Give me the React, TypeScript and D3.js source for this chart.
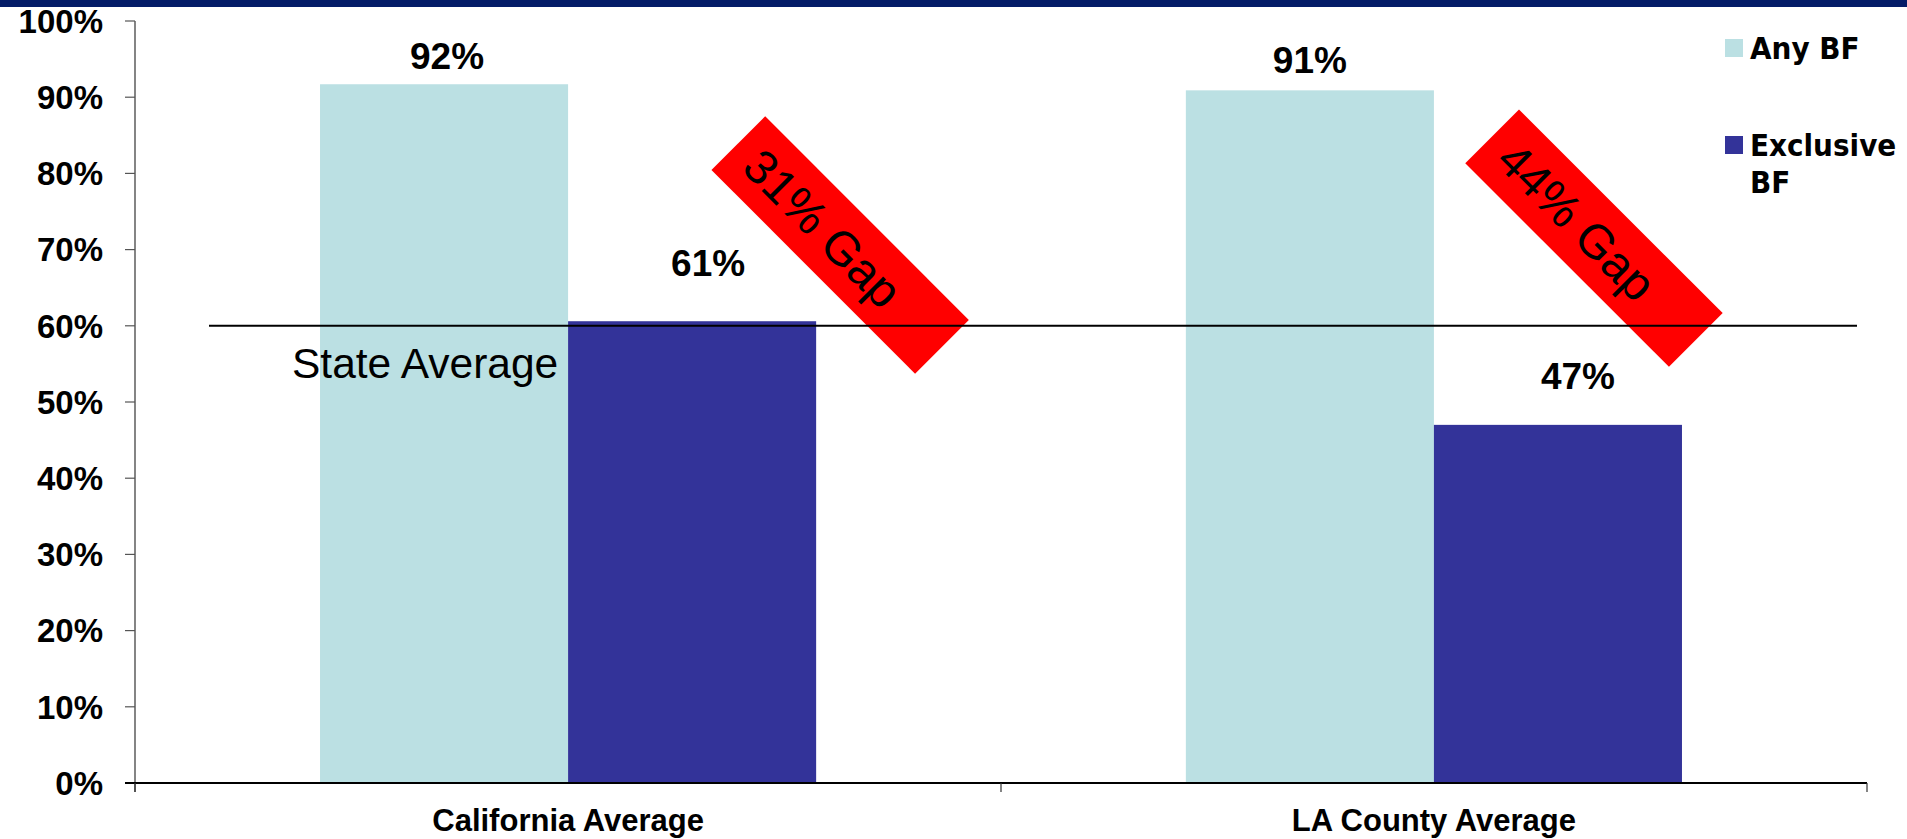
import React from "react";
import * as d3 from "d3";

const categories = ["California Average", "LA County Average"];
const seriesNames = ["Any BF", "Exclusive BF"];
const anyBF = [91.7, 90.9];
const exclusiveBF = [60.6, 47.0];
const yTicks = [0, 10, 20, 30, 40, 50, 60, 70, 80, 90, 100];
const stateAverage = 60;
const stateAverageLabel = "State Average";
const gapLabels = ["31% Gap", "44% Gap"];
const gapAnchorValues = [70.6, 71.5];

// layout constants
const W = 1907;
const H = 839;
const plot = { left: 135, right: 1867, top: 21, bottom: 783 };
const colors = ["#bbe0e3", "#333399"];
const labelOffsets = [
  [ [3, -15], [16, -45] ],
  [ [0, -17], [20, -36] ],
];
const gapDx = [24, -88];
const AX = "Liberation Sans, Arial, sans-serif";
const LEG = "'DejaVu Sans Condensed', 'DejaVu Sans', sans-serif";

export default function App() {
  const y = d3.scaleLinear().domain([0, 100]).range([plot.bottom, plot.top]);
  const x0 = d3
    .scaleBand<string>()
    .domain(categories)
    .range([plot.left, plot.right])
    .paddingInner(0.427)
    .paddingOuter(0.2137);
  const x1 = d3.scaleBand<string>().domain(seriesNames).range([0, x0.bandwidth()]);
  const series = [anyBF, exclusiveBF];
  const fmt = (v: number) => `${Math.round(v)}%`;

  const catBounds = [plot.left, ...categories.map((c, i) => (i < categories.length - 1 ? (x0(c)! + x0.bandwidth() + x0(categories[i + 1])!) / 2 : plot.right))];

  return (
    <svg width={W} height={H} style={{ position: "absolute", left: 0, top: 0, background: "#fff" }}>
      <rect x={0} y={0} width={W} height={7} fill="#041c68" />

      {/* bars */}
      {categories.map((c, ci) =>
        seriesNames.map((s, si) => {
          const v = series[si][ci];
          return (
            <rect
              key={c + s}
              x={x0(c)! + x1(s)!}
              y={y(v)}
              width={x1.bandwidth()}
              height={y(0) - y(v)}
              fill={colors[si]}
            />
          );
        })
      )}

      {/* value labels */}
      {categories.map((c, ci) =>
        seriesNames.map((s, si) => {
          const v = series[si][ci];
          const [dx, dy] = labelOffsets[ci][si];
          return (
            <text
              key={"l" + c + s}
              x={x0(c)! + x1(s)! + x1.bandwidth() / 2 + dx}
              y={y(v) + dy}
              textAnchor="middle"
              fontFamily={AX}
              fontWeight="bold"
              fontSize={37}
              fill="#000"
            >
              {fmt(v)}
            </text>
          );
        })
      )}

      {/* y axis */}
      <line x1={plot.left} x2={plot.left} y1={plot.top} y2={plot.bottom + 9} stroke="#333" strokeWidth={1.2} />
      {yTicks.map((t) => (
        <g key={t}>
          <line x1={plot.left - 10} x2={plot.left} y1={y(t)} y2={y(t)} stroke="#555" strokeWidth={1.2} />
          <text
            x={103}
            y={y(t)}
            dy="0.36em"
            textAnchor="end"
            fontFamily={AX}
            fontWeight="bold"
            fontSize={33}
            fill="#000"
          >
            {t}%
          </text>
        </g>
      ))}

      {/* x axis */}
      <line x1={plot.left - 10} x2={plot.right} y1={plot.bottom} y2={plot.bottom} stroke="#000" strokeWidth={2} />
      {catBounds.map((b, i) => (
        <line key={"cb" + i} x1={b} x2={b} y1={plot.bottom} y2={plot.bottom + 9} stroke="#333" strokeWidth={1.2} />
      ))}
      {categories.map((c) => (
        <text
          key={"c" + c}
          x={x0(c)! + x0.bandwidth() / 2}
          y={831}
          textAnchor="middle"
          fontFamily={AX}
          fontWeight="bold"
          fontSize={31}
          fill="#000"
        >
          {c}
        </text>
      ))}

      {/* gap annotations */}
      {categories.map((c, ci) => {
        const cx = x0(c)! + x0.bandwidth() + gapDx[ci];
        const cy = y(gapAnchorValues[ci]);
        return (
          <g key={"g" + c} transform={`translate(${cx},${cy}) rotate(45)`}>
            <rect x={-144} y={-38} width={288} height={76} fill="#ff0000" />
            <text x={-24} y={0} dy="0.36em" textAnchor="middle" fontFamily={AX} fontSize={48} fill="#000">
              {gapLabels[ci]}
            </text>
          </g>
        );
      })}

      {/* state average line */}
      <line x1={209} x2={1857} y1={y(stateAverage)} y2={y(stateAverage)} stroke="#000" strokeWidth={2} />
      <text x={292} y={378} fontFamily={AX} fontSize={42.5} fill="#000">
        {stateAverageLabel}
      </text>

      {/* legend */}
      {seriesNames.map((s, si) => (
        <g key={"leg" + s}>
          <rect x={1725} y={si === 0 ? 39 : 136} width={18} height={18} fill={colors[si]} />
        </g>
      ))}
      <text x={1750} y={59} fontFamily={LEG} fontStretch="condensed" fontWeight="bold" fontSize={31} fill="#000">
        Any BF
      </text>
      <text fontFamily={LEG} fontStretch="condensed" fontWeight="bold" fontSize={31} fill="#000">
        <tspan x={1750} y={156}>Exclusive</tspan>
        <tspan x={1750} y={193}>BF</tspan>
      </text>
    </svg>
  );
}
